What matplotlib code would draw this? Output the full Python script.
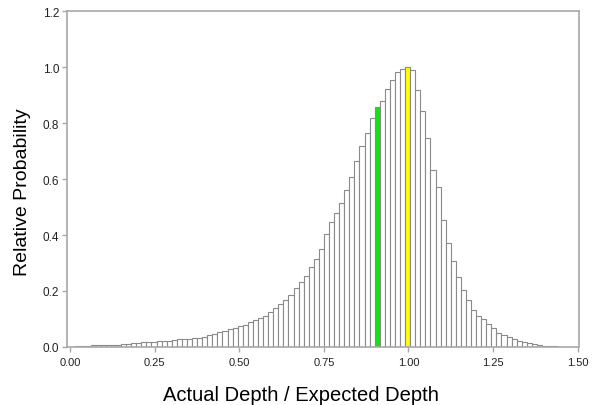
import matplotlib
matplotlib.use('Agg')
import matplotlib.pyplot as plt
import numpy as np

# Ancho de cada clase del histograma
ancho_clase = 0.015
primera_clase = 0.015

# Probabilidad relativa de cada clase (desde 0.015 hasta 1.44)
probabilidad = [
    0.003, 0.004, 0.005, 0.006, 0.007, 0.007, 0.007, 0.008, 0.008,
    0.011, 0.012, 0.013, 0.014, 0.016, 0.017, 0.018, 0.020, 0.022,
    0.023, 0.025, 0.027, 0.028, 0.030, 0.031, 0.033, 0.036, 0.042,
    0.046, 0.052, 0.058, 0.064, 0.069, 0.074, 0.079, 0.090, 0.098,
    0.104, 0.112, 0.126, 0.138, 0.153, 0.166, 0.186, 0.211, 0.232,
    0.255, 0.285, 0.315, 0.350, 0.404, 0.446, 0.479, 0.515, 0.561,
    0.607, 0.666, 0.718, 0.764, 0.820, 0.859, 0.878, 0.921, 0.953,
    0.983, 0.995, 1.000, 0.988, 0.918, 0.845, 0.746, 0.632, 0.572,
    0.453, 0.372, 0.306, 0.251, 0.205, 0.168, 0.132, 0.110, 0.100,
    0.082, 0.067, 0.051, 0.041, 0.035, 0.027, 0.021, 0.017, 0.013,
    0.009, 0.007, 0.005, 0.004, 0.003,
]

# Clases resaltadas (borde izquierdo de la clase)
clase_verde = 0.900
clase_amarilla = 0.990

xticks = [0.00, 0.25, 0.50, 0.75, 1.00, 1.25, 1.50]
xtick_labels = ["0.00", "0.25", "0.50", "0.75", "1.00", "1.25", "1.50"]
yticks = [0.0, 0.2, 0.4, 0.6, 0.8, 1.0, 1.2]
ytick_labels = ["0.0", "0.2", "0.4", "0.6", "0.8", "1.0", "1.2"]

plt.rcParams['font.family'] = ['Liberation Sans', 'DejaVu Sans']

bordes = primera_clase + ancho_clase * np.arange(len(probabilidad))
colores = []
for b in bordes:
    if abs(b - clase_verde) < 1e-6:
        colores.append("#0ee80e")
    elif abs(b - clase_amarilla) < 1e-6:
        colores.append("#ffff00")
    else:
        colores.append("white")

fig = plt.figure(figsize=(6.01, 4.06), dpi=100)
ax = fig.add_axes([0.1115, 0.143, 0.852, 0.827])

ax.bar(bordes, probabilidad, width=ancho_clase, align='edge',
       color=colores, edgecolor="#8a8a8a", linewidth=0.8)

ax.set_xlim(-0.0098, 1.5045)
ax.set_ylim(0, 1.2)
ax.set_xticks(xticks)
ax.set_xticklabels(xtick_labels)
ax.set_yticks(yticks)
ax.set_yticklabels(ytick_labels)

for s in ax.spines.values():
    s.set_color("#a8a8a8")
    s.set_linewidth(1.2)

ax.tick_params(axis='both', colors="#a8a8a8", labelcolor="#222222",
               labelsize=8, length=3.5, width=1)
ax.tick_params(axis='x', pad=4)
ax.tick_params(axis='y', pad=2, labelsize=8.5)

# Etiquetas de los ejes (desplazadas como en la figura original)
ax.set_xlabel("Actual Depth / Expected Depth", fontsize=14.5)
ax.xaxis.set_label_coords(0.456, -0.114)
ax.set_ylabel("Relative Probability", fontsize=14)
ax.yaxis.set_label_coords(-0.07, 0.465)

fig.savefig("out.png", dpi=100)
